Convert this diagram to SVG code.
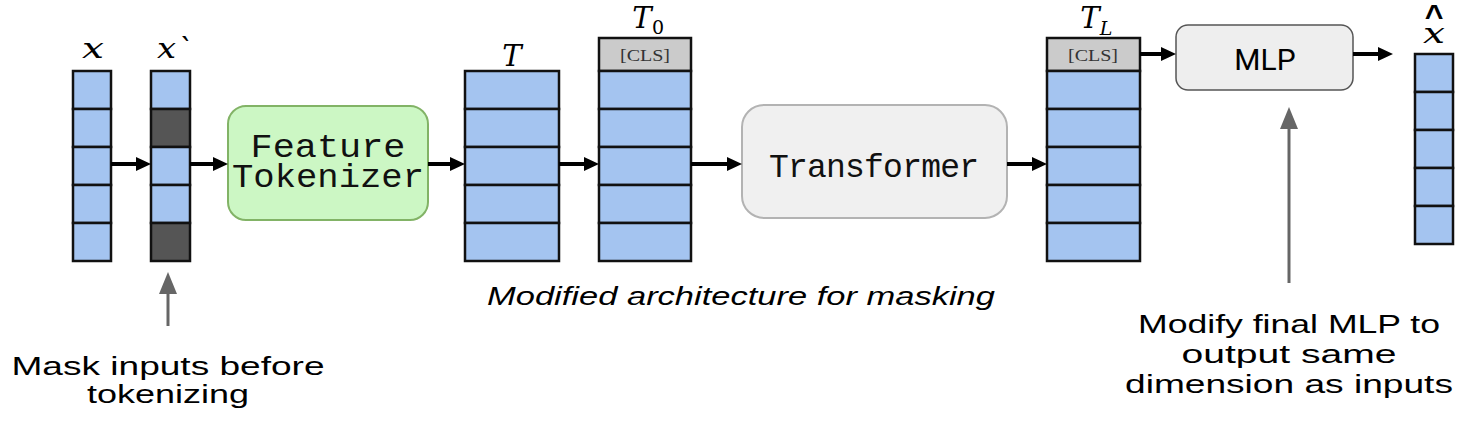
<svg xmlns="http://www.w3.org/2000/svg" width="1470" height="422" viewBox="0 0 1470 422">
<defs>
<marker id="ah" markerUnits="userSpaceOnUse" markerWidth="15" markerHeight="15" refX="0" refY="7" orient="auto" overflow="visible">
<path d="M0,0 L15,7 L0,14 z" fill="#000"/>
</marker>
<marker id="gh" markerUnits="userSpaceOnUse" markerWidth="18" markerHeight="22" refX="0" refY="9" orient="auto" overflow="visible">
<path d="M0,0 L22,9 L0,18 z" fill="#666"/>
</marker>
<style>
.cell{fill:#a4c4f0;stroke:#111;stroke-width:2.5}
.mask{fill:#555;stroke:#111;stroke-width:2.5}
.cls{fill:#cbcbcb;stroke:#111;stroke-width:2.5}
.clst{font-family:"Liberation Serif","DejaVu Serif",serif;font-size:17px;fill:#333;text-anchor:middle}
.math{font-family:"DejaVu Serif","Liberation Serif",serif;font-style:italic;fill:#000;text-anchor:middle}
.sub{font-family:"DejaVu Serif","Liberation Serif",serif;fill:#000;text-anchor:middle}
.mono{font-family:"Liberation Mono","DejaVu Sans Mono",monospace;font-size:33px;fill:#111;text-anchor:middle}
.note{font-family:"Liberation Sans",Arial,sans-serif;font-size:26px;fill:#000;text-anchor:middle}
.conn{stroke:#000;stroke-width:4;fill:none;marker-end:url(#ah)}
.gconn{stroke:#666;stroke-width:3;fill:none;marker-end:url(#gh)}
</style>
</defs>
<rect width="1470" height="422" fill="#fff"/>

<g id="col-x">
<rect class="cell" x="73" y="71" width="38" height="38"/>
<rect class="cell" x="73" y="109" width="38" height="38"/>
<rect class="cell" x="73" y="147" width="38" height="38"/>
<rect class="cell" x="73" y="185" width="38" height="38"/>
<rect class="cell" x="73" y="223" width="38" height="38"/>
<text class="math" x="93" y="58" font-size="28" textLength="22" lengthAdjust="spacingAndGlyphs">x</text>
</g>

<g id="col-xmasked">
<rect class="cell" x="151" y="71" width="39" height="38"/>
<rect class="mask" x="151" y="109" width="39" height="38"/>
<rect class="cell" x="151" y="147" width="39" height="38"/>
<rect class="cell" x="151" y="185" width="39" height="38"/>
<rect class="mask" x="151" y="223" width="39" height="38"/>
<text class="math" x="175" y="58" font-size="28" textLength="36" lengthAdjust="spacingAndGlyphs">x`</text>
</g>

<g id="feature-tokenizer">
<rect x="228" y="106" width="200" height="114" rx="18" fill="#ccf7c4" stroke="#82b366" stroke-width="2"/>
<text class="mono" x="328" y="157" font-size="27" textLength="155" lengthAdjust="spacingAndGlyphs">Feature</text>
<text class="mono" x="328" y="187" font-size="27" textLength="192" lengthAdjust="spacingAndGlyphs">Tokenizer</text>
</g>

<g id="col-T">
<rect class="cell" x="465" y="71" width="94" height="38"/>
<rect class="cell" x="465" y="109" width="94" height="38"/>
<rect class="cell" x="465" y="147" width="94" height="38"/>
<rect class="cell" x="465" y="185" width="94" height="38"/>
<rect class="cell" x="465" y="223" width="94" height="38"/>
<text class="math" x="512" y="66" font-size="29">T</text>
</g>

<g id="col-T0">
<rect class="cls" x="599" y="38" width="92" height="33"/>
<text class="clst" x="645" y="61" textLength="50" lengthAdjust="spacingAndGlyphs">[CLS]</text>
<rect class="cell" x="599" y="71" width="92" height="38"/>
<rect class="cell" x="599" y="109" width="92" height="38"/>
<rect class="cell" x="599" y="147" width="92" height="38"/>
<rect class="cell" x="599" y="185" width="92" height="38"/>
<rect class="cell" x="599" y="223" width="92" height="38"/>
<text class="math" x="642" y="28" font-size="29">T</text>
<text class="sub" x="658" y="34" font-size="19">0</text>
</g>

<g id="transformer">
<rect x="742" y="105" width="265" height="113" rx="22" fill="#f0f0f0" stroke="#b3b3b3" stroke-width="2"/>
<text class="mono" x="874" y="177" textLength="210">Transformer</text>
</g>

<g id="col-TL">
<rect class="cls" x="1047" y="38" width="93" height="33"/>
<text class="clst" x="1093" y="61" textLength="50" lengthAdjust="spacingAndGlyphs">[CLS]</text>
<rect class="cell" x="1047" y="71" width="93" height="38"/>
<rect class="cell" x="1047" y="109" width="93" height="38"/>
<rect class="cell" x="1047" y="147" width="93" height="38"/>
<rect class="cell" x="1047" y="185" width="93" height="38"/>
<rect class="cell" x="1047" y="223" width="93" height="38"/>
<text class="math" x="1090" y="28" font-size="29">T</text>
<text class="math" x="1106" y="35" font-size="19">L</text>
</g>

<g id="mlp">
<rect x="1176" y="25" width="177" height="65" rx="12" fill="#eeeeee" stroke="#555" stroke-width="1.5"/>
<text x="1265" y="70" font-family="Roboto,'Liberation Sans',sans-serif" font-size="30" text-anchor="middle" fill="#000">MLP</text>
</g>

<g id="col-xhat">
<rect class="cell" x="1415" y="54" width="38" height="38"/>
<rect class="cell" x="1415" y="92" width="38" height="38"/>
<rect class="cell" x="1415" y="130" width="38" height="38"/>
<rect class="cell" x="1415" y="168" width="38" height="38"/>
<rect class="cell" x="1415" y="206" width="38" height="38"/>
<text class="math" x="1434" y="43" font-size="28" textLength="22" lengthAdjust="spacingAndGlyphs">x</text>
<text x="1434" y="27" font-family="'Liberation Sans',sans-serif" font-weight="bold" font-size="32" text-anchor="middle" fill="#000">^</text>
</g>

<g id="connectors">
<line class="conn" x1="111" y1="164" x2="136" y2="164"/>
<line class="conn" x1="190" y1="164" x2="213" y2="164"/>
<line class="conn" x1="428" y1="164" x2="450" y2="164"/>
<line class="conn" x1="559" y1="164" x2="584" y2="164"/>
<line class="conn" x1="691" y1="164" x2="727" y2="164"/>
<line class="conn" x1="1007" y1="164" x2="1032" y2="164"/>
<line class="conn" x1="1140" y1="54" x2="1161" y2="54"/>
<line class="conn" x1="1353" y1="54" x2="1378" y2="54"/>
<line class="gconn" x1="168" y1="326" x2="168" y2="294"/>
<line class="gconn" x1="1289" y1="283" x2="1289" y2="129"/>
</g>

<g id="labels">
<text class="note" x="741" y="305" font-style="italic" font-size="28" textLength="508" lengthAdjust="spacingAndGlyphs">Modified architecture for masking</text>
<text class="note" x="168" y="375" font-size="25" textLength="313" lengthAdjust="spacingAndGlyphs">Mask inputs before</text>
<text class="note" x="168" y="403" font-size="25" textLength="162" lengthAdjust="spacingAndGlyphs">tokenizing</text>
<text class="note" x="1289" y="333" textLength="302" lengthAdjust="spacingAndGlyphs">Modify final MLP to</text>
<text class="note" x="1289" y="363" textLength="215" lengthAdjust="spacingAndGlyphs">output same</text>
<text class="note" x="1289" y="393" textLength="328" lengthAdjust="spacingAndGlyphs">dimension as inputs</text>
</g>
</svg>
